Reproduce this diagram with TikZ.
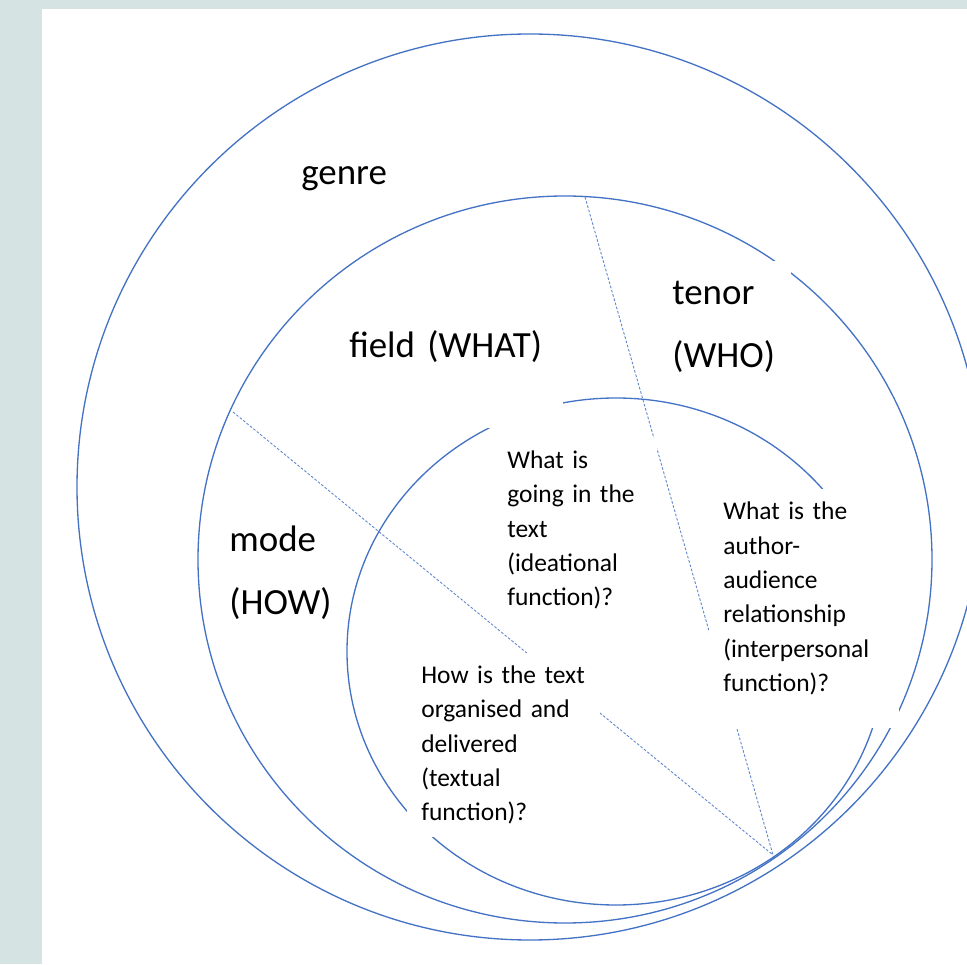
\documentclass[tikz,border=0pt]{standalone}
\usepackage{fontspec}
\setmainfont{Carlito}
\usepackage{tikz}

\definecolor{ringblue}{RGB}{68,114,196}
\definecolor{slidegrey}{RGB}{214,227,227}

\begin{document}
\begin{tikzpicture}[x=0.02cm, y=0.02cm,
  ring/.style={draw=ringblue, line width=0.75pt},
  split/.style={draw=ringblue!85, line width=0.5pt, dash pattern=on 1.5pt off 1pt},
  big/.style={fill=white, inner xsep=0.28cm, inner ysep=0.26cm, align=left,
    anchor=base west, font=\fontsize{21}{35.8}\selectfont},
  small/.style={fill=white, inner xsep=0.28cm, inner ysep=0.26cm, align=left,
    anchor=base west, font=\fontsize{14.5}{19.5}\selectfont}]

  % Slide and panel
  \useasboundingbox (0,0) rectangle (967,964);
  \fill[slidegrey] (0,0) rectangle (967,964);
  \fill[white] (42,0) rectangle (967,955);
  \clip (0,0) rectangle (967,964);

  % Nested rings
  \coordinate (genreC) at (530,477);
  \coordinate (fieldC) at (565,404.5);
  \coordinate (innerC) at (616,312.5);
  \draw[ring] (genreC) ellipse (453 and 453);
  \draw[ring] (fieldC) ellipse (367 and 363.5);
  \draw[ring] (innerC) ellipse (269 and 253.5);

  % Dividers
  \coordinate (meet) at (773,109);
  \coordinate (topcut) at (585,767);
  \coordinate (leftcut) at (233,552);
  \draw[split] (topcut) -- (meet);
  \draw[split] (leftcut) -- (meet);

  % Labels
  \node[big, text width=1.9cm] (genre) at (287,779.5) {genre};
  \node[big, text width=4cm] (field) at (335,606) {field (WHAT)\rule[-1.14cm]{0pt}{0pt}};
  \node[big, text width=2.1cm, inner ysep=0.42cm] (tenor) at (658,659) {tenor\\(WHO)};
  \node[big, text width=2cm, inner xsep=0.2cm] (mode) at (219,412) {mode\\(HOW)};

  \node[small, text width=2.72cm] (ideational) at (493,495.5)
    {What is\\going in the\\text\\(ideational\\function)?};
  \node[small, text width=3.24cm] (interpersonal) at (709,444)
    {What is the\\author-\\audience\\relationship\\(interpersonal\\function)?\rule[-0.48cm]{0pt}{0pt}};
  \node[small, text width=3.3cm] (textual) at (407,280.5)
    {How is the text\\organised and\\delivered\\(textual\\function)?};

\end{tikzpicture}
\end{document}
